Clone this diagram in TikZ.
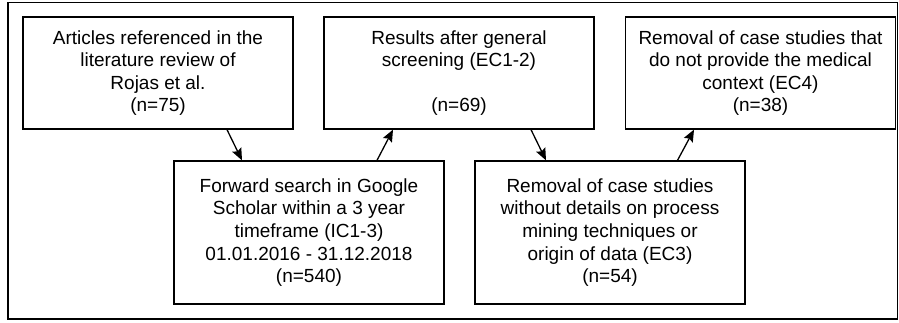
\documentclass[tikz,border=0pt]{standalone}
\usepackage{fontspec}
\setmainfont{Liberation Sans}
\usetikzlibrary{arrows.meta}
\tikzset{
  box/.style={draw=black, line width=1.3pt, fill=white, inner sep=0pt, align=center,
    font=\fontsize{19}{22.6}\selectfont, minimum width=270pt},
  topbox/.style={box, minimum height=112pt},
  botbox/.style={box, minimum height=143pt},
  flow/.style={line width=1.3pt, -{Stealth[length=12pt,width=10pt,inset=2pt]}},
}
\begin{document}
\begin{tikzpicture}[x=1pt,y=-1pt]
\useasboundingbox (0,0) rectangle (899,322);
\draw[line width=1.6pt] (8,2.5) rectangle (897.5,319);
\node[topbox] (b1) at (158,73) {Articles referenced in the\\literature review of\\Rojas et al.\\(n=75)};
\node[botbox] (b2) at (309,232.5) {Forward search in Google\\Scholar within a 3 year\\timeframe (IC1-3)\\01.01.2016 - 31.12.2018\\(n=540)};
\node[topbox] (b3) at (459,73) {Results after general\\screening (EC1-2)\\\mbox{}\\(n=69)};
\node[botbox] (b4) at (610,232.5) {Removal of case studies\\without details on process\\mining techniques or\\origin of data (EC3)\\(n=54)};
\node[topbox] (b5) at (760.5,73) {Removal of case studies that\\do not provide the medical\\context (EC4)\\(n=38)};
\draw[flow] ([xshift=69pt]b1.south) -- ([xshift=-67pt]b2.north);
\draw[flow] ([xshift=68pt]b2.north) -- ([xshift=-66pt]b3.south);
\draw[flow] ([xshift=72pt]b3.south) -- ([xshift=-64pt]b4.north);
\draw[flow] ([xshift=67.5pt]b4.north) -- ([xshift=-66.5pt]b5.south);
\end{tikzpicture}
\end{document}
